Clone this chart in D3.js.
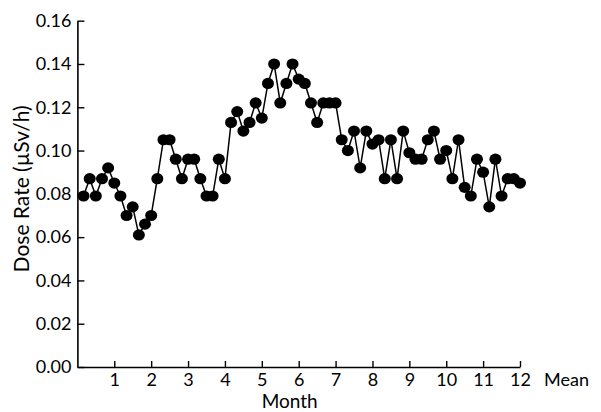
<!DOCTYPE html>
<html>
<head>
<meta charset="utf-8">
<script src="https://cdn.jsdelivr.net/npm/d3@7"></script>
<style>
  body { margin: 0; background: #fff; }
  text { font-family: Lato, "Open Sans", sans-serif; fill: #000; }
</style>
</head>
<body>
<div id="viz"></div>
<script>
const width = 601;
const height = 412;
const margin = {top: 20.7, right: 81, bottom: 45, left: 77.4};

// Dose rate readings, six per month (month = (i + 1) / 6)
const doseRate = [
  0.079, 0.087, 0.079, 0.087, 0.092, 0.085,
  0.079, 0.070, 0.074, 0.061, 0.066, 0.070,
  0.087, 0.105, 0.105, 0.096, 0.087, 0.096,
  0.096, 0.087, 0.079, 0.079, 0.096, 0.087,
  0.113, 0.118, 0.109, 0.113, 0.122, 0.115,
  0.131, 0.140, 0.122, 0.131, 0.140, 0.133,
  0.131, 0.122, 0.113, 0.122, 0.122, 0.122,
  0.105, 0.100, 0.109, 0.092, 0.109, 0.103,
  0.105, 0.087, 0.105, 0.087, 0.109, 0.099,
  0.096, 0.096, 0.105, 0.109, 0.096, 0.100,
  0.087, 0.105, 0.083, 0.079, 0.096, 0.090,
  0.074, 0.096, 0.079, 0.087, 0.087, 0.085
];
const pointsPerMonth = 6;
const monthTicks = [1, 2, 3, 4, 5, 6, 7, 8, 9, 10, 11, 12];
const doseTicks = [0, 0.02, 0.04, 0.06, 0.08, 0.10, 0.12, 0.14, 0.16];
const meanLabel = 'Mean';

const data = doseRate.map((v, i) => ({month: (i + 1) / pointsPerMonth, value: v}));

const svg = d3.select('#viz')
  .append('svg')
    .attr('width', width)
    .attr('height', height);

const xScale = d3.scaleLinear()
  .domain([0, 12])
  .range([margin.left, width - margin.right]);

const yScale = d3.scaleLinear()
  .domain([0, 0.16])
  .range([height - margin.bottom, margin.top]);

// x axis, ticks pointing up into the plot
const xAxis = svg.append('g')
  .attr('transform', `translate(0, ${yScale(0)})`)
  .call(d3.axisBottom(xScale)
    .tickValues(monthTicks)
    .tickSizeInner(-6)
    .tickSizeOuter(0)
    .tickPadding(6));

// y axis, ticks pointing right
const yAxis = svg.append('g')
  .attr('transform', `translate(${xScale(0)}, 0)`)
  .call(d3.axisLeft(yScale)
    .tickValues(doseTicks)
    .tickFormat(d3.format('.2f'))
    .tickSizeInner(-7)
    .tickSizeOuter(0)
    .tickPadding(6));

[xAxis, yAxis].forEach(g => {
  g.select('.domain').attr('stroke', '#000').attr('stroke-width', 1.6);
  g.selectAll('.tick line').attr('stroke', '#000').attr('stroke-width', 1.4);
  g.selectAll('.tick text').style('font-size', '18px').attr('fill', '#000');
});

// "Mean" sits after the last month tick
svg.append('text')
  .attr('x', xScale(12) + 24)
  .attr('y', yScale(0) + 6)
  .attr('dy', '0.71em')
  .style('font-size', '18px')
  .text(meanLabel);

// axis titles
svg.append('text')
  .attr('x', (xScale(0) + xScale(12)) / 2 - 9)
  .attr('y', 408)
  .attr('text-anchor', 'middle')
  .style('font-size', '19px')
  .text('Month');

svg.append('text')
  .attr('transform', `translate(29, ${(yScale(0) + yScale(0.16)) / 2 - 5}) rotate(-90)`)
  .attr('text-anchor', 'middle')
  .style('font-size', '21px')
  .text('Dose Rate (µSv/h)');

// line + markers
const line = d3.line()
  .x(d => xScale(d.month))
  .y(d => yScale(d.value));

svg.append('path')
  .datum(data)
  .attr('d', line)
  .attr('fill', 'none')
  .attr('stroke', '#000')
  .attr('stroke-width', 1.5);

svg.append('g')
  .selectAll('ellipse')
  .data(data)
  .join('ellipse')
    .attr('cx', d => xScale(d.month))
    .attr('cy', d => yScale(d.value))
    .attr('rx', 6)
    .attr('ry', 5.6)
    .attr('fill', '#000');
</script>
</body>
</html>
